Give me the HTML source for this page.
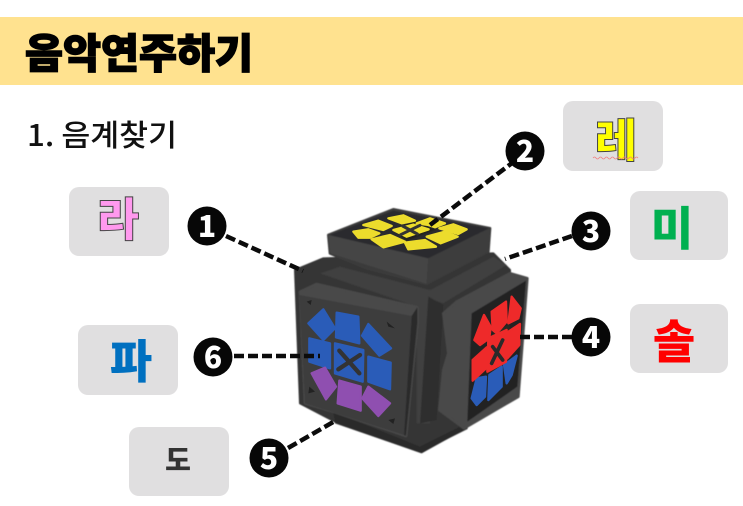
<!DOCTYPE html>
<html><head><meta charset="utf-8"><style>
html,body{margin:0;padding:0;background:#fff;width:743px;height:506px;overflow:hidden}
svg{display:block}
text{font-family:"Noto Sans CJK KR","Liberation Sans",sans-serif}
.t{stroke-linejoin:round;stroke-width:7}
</style></head><body>
<svg width="743" height="506" viewBox="0 0 743 506" xmlns="http://www.w3.org/2000/svg">
<defs><filter id="b" x="-5%" y="-5%" width="110%" height="110%"><feGaussianBlur stdDeviation="1.2"/></filter></defs>
<rect width="743" height="506" fill="#fff"/>
<rect x="0" y="17" width="743" height="68" fill="#ffe28f"/>
<text x="25" y="68" font-size="41" font-weight="900" fill="#000" stroke="#000" stroke-width="1.4" textLength="228" lengthAdjust="spacingAndGlyphs">음악연주하기</text>
<text x="27" y="146" font-size="30" font-weight="500" fill="#111" textLength="150" lengthAdjust="spacingAndGlyphs">1. 음계찾기</text>

<g fill="#e0dfe0">
<rect x="69" y="187" width="100" height="69" rx="10"/>
<rect x="563" y="101" width="100" height="70" rx="10"/>
<rect x="630" y="191" width="98" height="69" rx="10"/>
<rect x="630" y="304" width="98" height="69" rx="10"/>
<rect x="78" y="325" width="100" height="70" rx="10"/>
<rect x="129" y="427" width="100" height="69" rx="10"/>
</g>
<g text-anchor="middle" font-weight="900">
<text x="118" y="236" font-size="46" fill="#ff99ee" stroke="#444" stroke-width="1">라</text>
<text x="616" y="157" font-size="46" fill="#ffff00" stroke="#444" stroke-width="1">레</text>
<text x="672" y="245" font-size="46" fill="#00b050">미</text>
<text x="674" y="358" font-size="46" fill="#ff0000">솔</text>
<text x="131" y="378" font-size="46" fill="#0070c0">파</text>
<text x="178" y="470" font-size="28" fill="#333">도</text>
</g>
<path d="M593 158q1.500 -2 3 0t3 0t3 0t3 0t3 0t3 0t3 0t3 0t3 0t3 0t3 0t3 0t3 0t3 0t3 0" fill="none" stroke="#f08080" stroke-width="0.8"/>

<g transform="translate(280 190) scale(.33333)">
<g filter="url(#b)" stroke-linejoin="round">
<polygon points="45,240 130,205 640,190 690,240 690,300 560,715 420,785 165,695 60,640" fill="#343434" stroke="#343434" stroke-width="6"/>
<polygon points="160,665 420,770 560,700 560,715 425,790 165,700" fill="#2c2c2c"/>
<polygon points="120,250 180,230 450,300 640,200 680,225 490,340 460,330 450,700 410,700 410,350" fill="#404040"/>
<polygon points="445,320 490,345 470,690 420,700" fill="#2d2d2d"/>
<!-- top cap -->
<polygon points="145,135 340,58 630,115 625,185 440,282 260,235 150,190" fill="#3a3a3a" stroke="#3a3a3a" stroke-width="8"/>
<polygon points="148,135 340,62 626,115 445,205" fill="#2c2c2e"/>
<polygon points="145,135 445,205 440,282 150,190" fill="#454545"/>
<polygon points="445,205 630,115 625,185 440,282" fill="#3d3d3d"/>
<!-- front plate -->
<polygon points="60,305 110,282 412,352 412,400 378,738 160,665 75,640" fill="#484848" stroke="#484848" stroke-width="8"/>
<polygon points="58,315 395,378 372,735 75,640" fill="#3c3c3e"/>
<polygon points="395,378 412,352 412,400 378,738 372,735" fill="#2b2b2b"/>
<!-- right plate -->
<polygon points="490,370 530,335 690,250 742,265 715,620 552,715 478,660 490,540 505,490" fill="#484848" stroke="#484848" stroke-width="8"/>
<polygon points="575,370 738,272 712,590 562,695" fill="#202024"/>
<polygon points="625,440 690,400 685,520 618,555" fill="#2a2a22"/>
<polygon points="335,118 400,95 470,118 380,152" fill="#23231f"/>
</g>
<g class="t" fill="#2a5cb8" stroke="#2a5cb8">
<polygon points="85,400 130,358 165,415 130,450"/>
<polygon points="170,368 235,380 238,460 168,442"/>
<polygon points="265,402 333,475 298,497 246,437"/>
<polygon points="88,445 150,460 150,535 88,515"/>
<polygon points="165,460 250,480 248,575 165,550"/>
<polygon points="265,500 332,518 330,598 265,575"/>
<polygon points="590,565 618,560 615,620 590,645 575,625"/>
<polygon points="628,555 665,530 665,590 625,630"/>
<polygon points="672,525 710,497 695,555 680,580"/>
</g>
<g class="t" fill="#8f4fb0" stroke="#8f4fb0">
<polygon points="95,550 135,533 168,590 138,628"/>
<polygon points="178,572 242,590 242,662 173,640"/>
<polygon points="265,590 330,640 295,678 247,625"/>
</g>
<g class="t" fill="#ee2a2a" stroke="#ee2a2a">
<polygon points="583,450 612,375 632,410 628,445 600,465"/>
<polygon points="635,365 678,335 680,395 650,430 638,420"/>
<polygon points="695,320 722,355 715,385 685,400"/>
<polygon points="685,425 720,402 718,465 682,505"/>
<polygon points="578,510 620,472 618,535 578,572"/>
<polygon points="625,445 680,420 678,515 622,545"/>
</g>
<g class="t" fill="#ecdc2c" stroke="#ecdc2c">
<polygon points="220,125 265,118 298,130 270,143 235,143"/>
<polygon points="250,105 295,92 335,108 310,120"/>
<polygon points="325,85 370,76 405,92 365,100"/>
<polygon points="410,100 450,85 495,100 465,112 445,105"/>
<polygon points="478,115 520,103 560,118 535,132"/>
<polygon points="440,140 495,125 533,140 482,160"/>
<polygon points="375,158 435,150 468,170 385,178"/>
<polygon points="275,148 330,135 375,155 310,172"/>
<polygon points="340,120 400,104 446,118 380,140"/>
</g>
<g stroke="#333" stroke-linecap="round" fill="none">
<path d="M178 482L238 550M240 495L175 538" stroke-width="13"/>
<path d="M638 470L668 510M668 450L635 520" stroke-width="11" stroke="#2a2a2a"/>
<path d="M368 108L412 132M420 106L362 134" stroke-width="9"/>
</g>
<g fill="#222">
<polygon points="80,335 95,330 92,345"/><polygon points="325,690 345,685 340,702"/>
<polygon points="320,395 345,415 325,410"/><polygon points="88,590 105,605 85,610"/>
</g>
</g>

<g fill="none" stroke="#0b0b0b" stroke-width="4.500" stroke-dasharray="10 4">
<path d="M226 236L303 271"/>
<path d="M516 160L430 225"/>
<path d="M572 236L505 259"/>
<path d="M572 337L516 337"/>
<path d="M234 356L320 356"/>
<path d="M288 448L335 421"/>
</g>
<g fill="#070707">
<circle cx="207" cy="226" r="19.500"/><circle cx="525" cy="151" r="19.500"/><circle cx="591" cy="231" r="19.500"/>
<circle cx="591" cy="337" r="19.500"/><circle cx="269" cy="458" r="19.500"/><circle cx="213" cy="357" r="19.500"/>
</g>
<g fill="#fff" font-size="30" font-weight="900" text-anchor="middle">
<text x="207" y="237">1</text><text x="525" y="162">2</text><text x="591" y="242">3</text>
<text x="591" y="348">4</text><text x="269" y="469">5</text><text x="213" y="368">6</text>
</g>
</svg>
</body></html>
